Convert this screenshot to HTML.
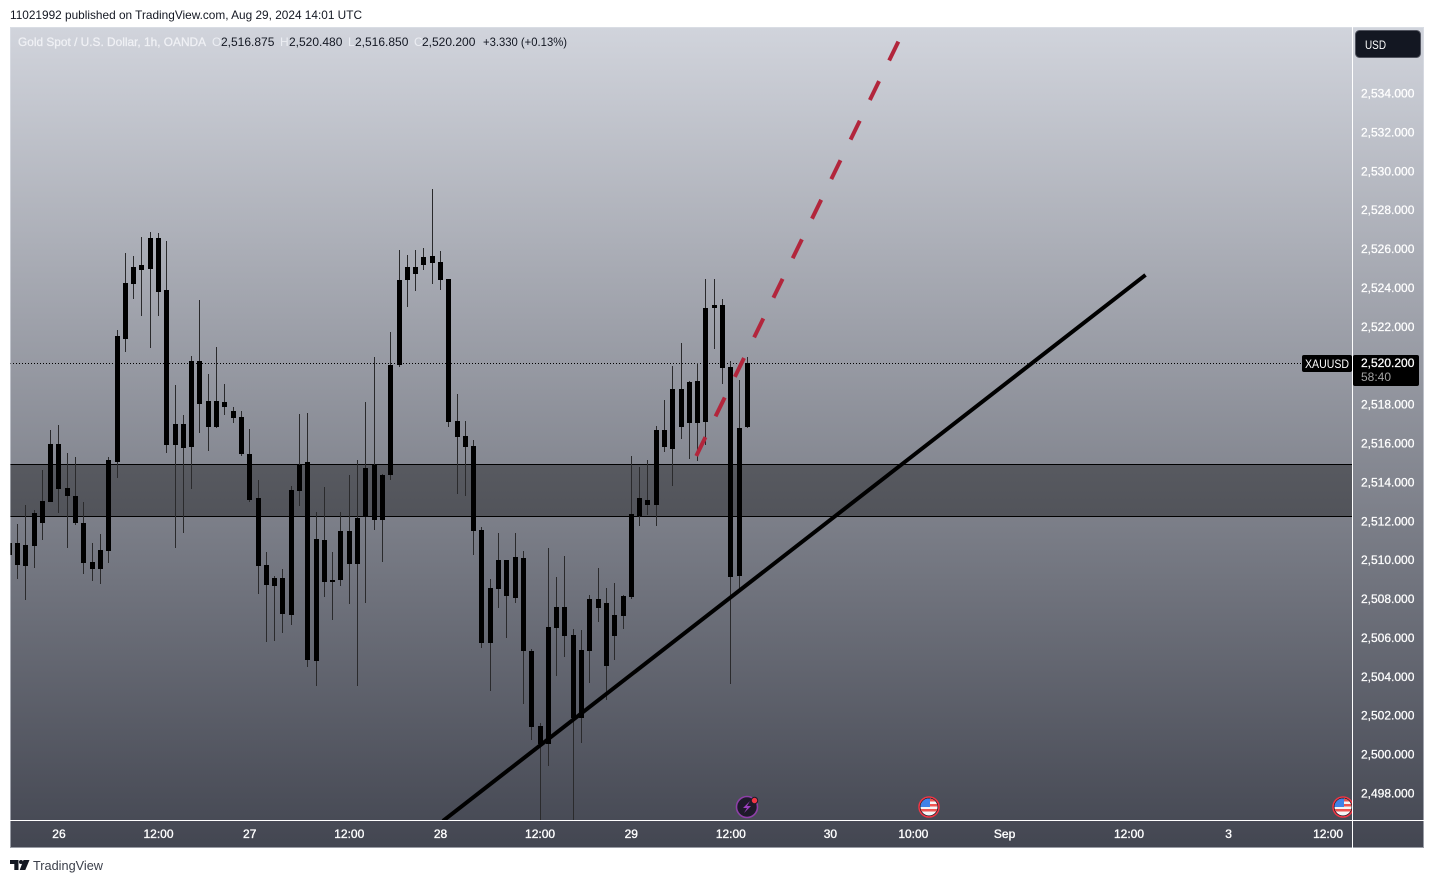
<!DOCTYPE html>
<html lang="en">
<head>
<meta charset="utf-8">
<title>Gold Spot / U.S. Dollar, 1h, OANDA</title>
<style>
html,body{margin:0;padding:0;background:#fff;width:1434px;height:883px;overflow:hidden}
svg{display:block;font-family:"Liberation Sans",Arial,sans-serif}
text{white-space:pre}
</style>
</head>
<body>
<svg id="chart" width="1434" height="883" viewBox="0 0 1434 883" xmlns="http://www.w3.org/2000/svg">
  <defs>
    <linearGradient id="bgGrad" gradientUnits="userSpaceOnUse" x1="0" y1="27" x2="0" y2="848">
      <stop offset="0" stop-color="#d1d4dc"/>
      <stop offset="1" stop-color="#434651"/>
    </linearGradient>
    <clipPath id="paneClip"><rect x="10.5" y="27" width="1341.5" height="793"/></clipPath>
    <clipPath id="flagClip1"><circle cx="929" cy="807" r="8.5"/></clipPath>
    <clipPath id="flagClip2"><circle cx="1343" cy="807" r="8.5"/></clipPath>
    <clipPath id="axisEdgeClip"><rect x="10" y="27" width="1342" height="793"/></clipPath>
  </defs>

  <text x="10" y="19" font-size="12" fill="#131722" textLength="352" lengthAdjust="spacingAndGlyphs">11021992 published on TradingView.com, Aug 29, 2024 14:01 UTC</text>

  <rect x="10" y="27" width="1414" height="821" fill="url(#bgGrad)"/>
  <rect x="10.5" y="27.5" width="1413" height="820" fill="none" stroke="#e0e3eb" stroke-opacity=".55"/>

  <g id="pane" clip-path="url(#paneClip)">
    <g id="zone"></g>
    <g id="priceLine"></g>
    <g id="candles"></g>
    <g id="drawings"></g>
  </g>

  <g font-size="12">
    <text x="18" y="46" fill="#f0f1f5" stroke="#f0f1f5" stroke-width=".25" textLength="188" lengthAdjust="spacingAndGlyphs">Gold Spot / U.S. Dollar, 1h, OANDA</text>
    <text x="212" y="46" fill="#eceef3">O</text>
    <text x="221" y="46" fill="#131722">2,516.875</text>
    <text x="280" y="46" fill="#eceef3">H</text>
    <text x="289" y="46" fill="#131722">2,520.480</text>
    <text x="348" y="46" fill="#eceef3">L</text>
    <text x="355" y="46" fill="#131722">2,516.850</text>
    <text x="414" y="46" fill="#eceef3">C</text>
    <text x="422" y="46" fill="#131722">2,520.200</text>
    <text x="483" y="46" fill="#131722" textLength="84" lengthAdjust="spacingAndGlyphs">+3.330 (+0.13%)</text>
  </g>

  <rect x="1352" y="27" width="1" height="821" fill="#ffffff"/>
  <rect x="10" y="820" width="1414" height="1" fill="#ffffff"/>

  <g id="priceAxis" font-size="12" fill="#ffffff" stroke="#ffffff" stroke-width=".25"></g>
  <g id="timeAxis" font-size="12" fill="#ffffff" stroke="#ffffff" stroke-width=".35"></g>

  <g>
    <rect x="1355.5" y="30.5" width="65" height="27" rx="4" fill="#131722" stroke="#50535e"/>
    <text x="1365" y="49" font-size="12" fill="#ffffff" textLength="21" lengthAdjust="spacingAndGlyphs">USD</text>
  </g>

  <g>
    <rect x="1302" y="355" width="50" height="17" rx="2" fill="#000000"/>
    <text x="1305" y="368" font-size="12" fill="#ffffff" textLength="44" lengthAdjust="spacingAndGlyphs">XAUUSD</text>
    <rect x="1353" y="355" width="66" height="31" rx="2" fill="#000000"/>
    <text x="1361" y="367" font-size="12" fill="#ffffff" stroke="#ffffff" stroke-width=".25">2,520.200</text>
    <text x="1361" y="381" font-size="12" fill="#a3a3a3">58:40</text>
  </g>

  <g>
    <circle cx="747" cy="807" r="10.5" fill="#1e1a2a" stroke="#8e3fa8" stroke-width="1.6"/>
    <polygon points="750,801 743,808 747,808 744,813 751,806 747,806" fill="#9c3fc0"/>
    <circle cx="754.5" cy="800.5" r="3.2" fill="#f23645" stroke="#1e1a2a"/>
  </g>
  <g>
    <circle cx="929" cy="807" r="10" fill="#131722" stroke="#f23645" stroke-width="1.5"/>
    <g clip-path="url(#flagClip1)">
      <rect x="920" y="798" width="18" height="18" fill="#f5f5f5"/>
      <rect x="920" y="799" width="18" height="2.5" fill="#ef5350"/>
      <rect x="920" y="804" width="18" height="2.5" fill="#ef5350"/>
      <rect x="920" y="809" width="18" height="2.5" fill="#ef5350"/>
      <rect x="920" y="798" width="10" height="9" fill="#3f82e8"/>
    </g>
  </g>
  <g clip-path="url(#axisEdgeClip)">
    <circle cx="1343" cy="807" r="10" fill="#131722" stroke="#f23645" stroke-width="1.5"/>
    <g clip-path="url(#flagClip2)">
      <rect x="1334" y="798" width="18" height="18" fill="#f5f5f5"/>
      <rect x="1334" y="799" width="18" height="2.5" fill="#ef5350"/>
      <rect x="1334" y="804" width="18" height="2.5" fill="#ef5350"/>
      <rect x="1334" y="809" width="18" height="2.5" fill="#ef5350"/>
      <rect x="1334" y="798" width="10" height="9" fill="#3f82e8"/>
    </g>
  </g>

  <g>
    <path d="M10 860h8.5v10h-4.2v-6H10z M23.5 860h6l-4.2 10h-5.6z" fill="#131722"/>
    <circle cx="21" cy="862" r="2" fill="#131722"/>
    <text x="33" y="870" font-size="13" fill="#3b3f4a" textLength="70" lengthAdjust="spacingAndGlyphs">TradingView</text>
  </g>
</svg>

<script>
const opens = [2510.32,2510.94,2509.76,2510.79,2511.97,2513.05,2516.03,2513.77,2513.36,2511.97,2509.96,2509.60,2510.53,2515.10,2521.43,2524.25,2525.23,2525.02,2526.61,2523.94,2515.97,2517.05,2515.87,2520.30,2518.24,2516.90,2518.19,2517.72,2517.41,2515.51,2513.25,2509.81,2508.73,2509.15,2507.24,2513.61,2515.10,2504.87,2511.09,2509.03,2509.03,2511.55,2509.86,2512.27,2514.94,2512.12,2514.43,2520.09,2524.46,2525.12,2525.23,2525.69,2525.38,2524.51,2517.21,2516.44,2515.92,2511.60,2505.80,2508.58,2510.07,2508.12,2510.17,2505.38,2501.52,2500.59,2506.56,2507.64,2506.20,2501.93,2505.38,2508.05,2507.85,2506.15,2507.18,2508.15,2512.33,2513.15,2512.89,2516.75,2515.77,2518.85,2517.11,2519.27,2517.16,2523.02,2523.17,2519.99,2509.24,2516.875];
const highs = [2511.09,2511.92,2512.89,2512.64,2514.69,2516.75,2517.00,2515.57,2515.36,2513.05,2510.94,2511.40,2515.36,2521.89,2525.85,2525.69,2526.67,2526.93,2526.87,2526.46,2519.06,2517.52,2520.55,2523.43,2519.62,2521.01,2519.11,2517.93,2517.72,2516.80,2514.17,2510.48,2509.25,2509.60,2513.87,2517.57,2517.62,2512.53,2513.82,2510.48,2512.53,2514.43,2515.21,2518.19,2520.50,2514.48,2521.79,2526.00,2525.75,2526.00,2526.10,2529.14,2525.95,2524.51,2518.60,2517.21,2516.23,2511.76,2509.10,2511.45,2510.07,2511.45,2510.53,2505.48,2501.68,2510.68,2509.20,2510.27,2506.51,2506.46,2508.26,2509.66,2508.63,2508.88,2508.26,2515.41,2514.84,2515.21,2516.95,2518.29,2520.03,2521.22,2519.27,2520.19,2524.51,2524.51,2523.48,2520.30,2519.32,2520.48];
const lows = [2510.17,2509.09,2508.00,2509.66,2511.09,2513.05,2512.48,2510.68,2511.86,2509.35,2508.98,2508.83,2509.91,2514.28,2520.76,2523.48,2522.61,2520.97,2522.61,2515.57,2510.68,2511.45,2513.72,2516.59,2515.67,2516.85,2517.52,2517.11,2515.41,2513.05,2508.31,2505.86,2505.91,2506.32,2506.73,2512.84,2504.56,2503.58,2508.16,2506.98,2508.73,2507.80,2503.58,2507.85,2511.60,2509.96,2514.17,2520.00,2523.07,2523.89,2524.97,2524.25,2523.94,2516.90,2513.46,2513.36,2510.32,2505.55,2503.34,2507.59,2506.05,2507.85,2502.65,2500.80,2496.43,2499.47,2504.09,2505.07,2496.43,2500.64,2503.73,2506.87,2502.86,2504.92,2506.51,2508.05,2511.81,2512.38,2511.81,2515.62,2513.87,2516.28,2515.26,2515.15,2515.97,2520.91,2519.11,2503.69,2508.52,2516.85];
const closes = [2510.94,2509.81,2510.84,2512.48,2513.10,2516.03,2513.72,2513.36,2511.97,2509.91,2509.60,2510.58,2515.21,2521.58,2524.30,2525.12,2524.97,2526.61,2523.84,2515.97,2517.05,2515.82,2520.30,2518.08,2516.90,2518.24,2517.93,2517.36,2515.51,2513.15,2509.76,2508.78,2509.15,2507.29,2513.66,2514.94,2504.92,2511.14,2508.93,2508.93,2511.55,2509.86,2512.22,2514.79,2512.12,2514.43,2520.09,2524.46,2525.12,2524.77,2525.64,2525.33,2524.46,2517.16,2516.39,2515.87,2511.55,2505.80,2508.63,2510.07,2508.22,2510.22,2505.38,2501.47,2500.59,2506.61,2507.64,2506.15,2501.93,2505.43,2508.05,2507.59,2504.61,2507.23,2508.20,2512.43,2513.25,2512.89,2516.75,2515.87,2518.85,2516.90,2519.22,2517.11,2523.02,2523.17,2519.93,2509.19,2516.85,2520.20];

const priceTicks = [2534,2532,2530,2528,2526,2524,2522,2518,2516,2514,2512,2510,2508,2506,2504,2502,2500,2498];
const timeLabels = ["26","12:00","27","12:00","28","12:00","29","12:00","30","10:00","Sep","12:00","3","12:00"];
const timeSlots = [6,18,29,41,52,64,75,87,99,109,120,135,147,159];

const zonePrices = [2514.97,2512.30];
const lastClose = 2520.20;
const trendTimes = [52.29,136.99];
const trendPrices = [2496.64,2524.72];
const projectionTimes = [82.83,107.23];
const projectionPrices = [2515.41,2536.75];

const NS = "http://www.w3.org/2000/svg";
function yAt(price){ return 94.5 + (2534 - price) * 19.444; }
function xAt(index){ return 9.18 + 8.295 * index; }
function make(tag, attrs, parent){
  const el = document.createElementNS(NS, tag);
  for (const k in attrs) el.setAttribute(k, attrs[k]);
  parent.appendChild(el);
  return el;
}
function fmt(p){
  return p.toLocaleString("en-US",{minimumFractionDigits:3,maximumFractionDigits:3});
}

const zoneG = document.getElementById("zone");
const zoneTop = yAt(zonePrices[0]), zoneBottom = yAt(zonePrices[1]);
const zoneRect = make("rect",{x:10,y:zoneTop,width:1342,height:zoneBottom-zoneTop,fill:"#000","fill-opacity":0.34},zoneG);


const zoneLineTop = make("line",{x1:10,x2:1352,y1:Math.floor(zoneTop)+.5,y2:Math.floor(zoneTop)+.5,stroke:"#000","stroke-width":1},zoneG);


const zoneLineBottom = make("line",{x1:10,x2:1352,y1:Math.floor(zoneBottom)+.5,y2:Math.floor(zoneBottom)+.5,stroke:"#000","stroke-width":1},zoneG);



const lineY = Math.round(yAt(lastClose))+.5;
const priceDots = make("line",{x1:10,x2:1302,y1:lineY,y2:lineY,stroke:"#000","stroke-width":1,"stroke-dasharray":"1 2"},document.getElementById("priceLine"));



const candleG = document.getElementById("candles");
opens.forEach(function(o,i){
  const cx = Math.floor(xAt(i));
  const top = Math.round(yAt(Math.max(o,closes[i])));
  const bottom = Math.round(yAt(Math.min(o,closes[i])));
  const hi = Math.round(yAt(highs[i]));
  const lo = Math.round(yAt(lows[i]));
  const wick = make("rect",{x:cx,y:hi,width:1,height:lo-hi,fill:"#2a2a2c"},candleG);
  
  
  const body = make("rect",{x:cx-2,y:top,width:5,height:Math.max(1,bottom-top),fill:"#000"},candleG);
  
  
});

const drawG = document.getElementById("drawings");
const trend = make("line",{x1:xAt(trendTimes[0]),y1:yAt(trendPrices[0]),x2:xAt(trendTimes[1]),y2:yAt(trendPrices[1]),stroke:"#000","stroke-width":4},drawG);


const projection = make("line",{x1:xAt(projectionTimes[0]),y1:yAt(projectionPrices[0]),x2:xAt(projectionTimes[1]),y2:yAt(projectionPrices[1]),stroke:"#b2263c","stroke-width":4,"stroke-dasharray":"21 23"},drawG);



const priceAxisG = document.getElementById("priceAxis");
priceTicks.forEach(function(t){
  const label = make("text",{x:1361,y:yAt(t)+3},priceAxisG);
  label.textContent = fmt(t);
  
  
});

const timeAxisG = document.getElementById("timeAxis");
timeLabels.forEach(function(t,i){
  const label = make("text",{x:xAt(timeSlots[i]),y:838,"text-anchor":"middle"},timeAxisG);
  label.textContent = t;
  
  
});
</script>
</body>
</html>
